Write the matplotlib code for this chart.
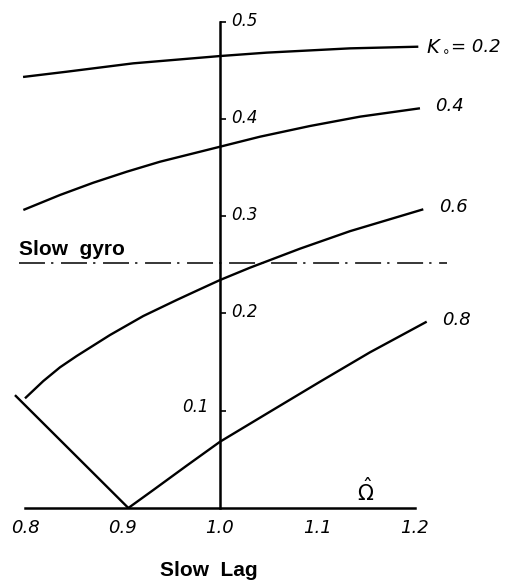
import matplotlib
matplotlib.use('Agg')
import matplotlib.pyplot as plt

# frequency ratio (Omega hat) and damping
k02_x = [0.798, 0.8428, 0.911, 1.000, 1.0479, 1.1333, 1.2034]
k02_y = [0.443, 0.4484, 0.457, 0.4645, 0.468, 0.4724, 0.4741]

k04_x = [0.7983, 0.8359, 0.870, 0.9043, 0.9385, 1.000, 1.041, 1.0923, 1.1436, 1.2051]
k04_y = [0.3063, 0.3217, 0.3343, 0.3456, 0.3559, 0.3713, 0.3816, 0.3926, 0.4022, 0.4108]

k06_x = [0.800, 0.8188, 0.8359, 0.853, 0.8872, 0.9213, 0.9556, 0.9761, 1.000,
         1.0308, 1.082, 1.1333, 1.2085]
k06_y = [0.1127, 0.1305, 0.1446, 0.1562, 0.1778, 0.1973, 0.2138, 0.2233, 0.2343,
         0.247, 0.2665, 0.2845, 0.307]

k08_x = [0.906, 0.9316, 0.9658, 1.000, 1.0513, 1.1026, 1.1538, 1.212]
k08_y = [0.000, 0.0185, 0.0435, 0.0681, 0.099, 0.1298, 0.160, 0.1915]

# boundary of the slow lag region
lim_x = [0.7897, 0.906]
lim_y = [0.116, 0.000]

gyro_level = 0.2515
gyro_x = [0.794, 1.233]

curve_labels = ['0.4', '0.6', '0.8']
x_ticks = [0.8, 0.9, 1.0, 1.1, 1.2]
x_ticklabels = ['0.8', '0.9', '1.0', '1.1', '1.2']
y_ticks = [0.1, 0.2, 0.3, 0.4, 0.5]
y_ticklabels = ['0.1', '0.2', '0.3', '0.4', '0.5']

fig = plt.figure(figsize=(5.08, 5.88), dpi=100)
ax = fig.add_axes([0, 0, 1, 1])
ax.set_xlim(0.8 - 25 / 975, 0.8 + 483 / 975)
ax.set_ylim(-80 / 973, 508 / 973)

lw = 1.7
for xs, ys in [(k02_x, k02_y), (k04_x, k04_y), (k06_x, k06_y), (k08_x, k08_y), (lim_x, lim_y)]:
    ax.plot(xs, ys, color='black', lw=lw, solid_capstyle='butt', solid_joinstyle='round')

ax.plot(gyro_x, [gyro_level, gyro_level], color='black', lw=1.1,
        dashes=(17, 4, 1.5, 5))

# axes crossing at Omega = 1 and zero damping
for s in ['top', 'right']:
    ax.spines[s].set_visible(False)
ax.spines['left'].set_position(('data', 1.0))
ax.spines['left'].set_bounds(0, 0.5)
ax.spines['bottom'].set_position(('data', 0))
ax.spines['bottom'].set_bounds(0.8, 1.2)
ax.spines['left'].set_linewidth(1.8)
ax.spines['bottom'].set_linewidth(1.8)

ax.set_yticks(y_ticks)
ax.tick_params(axis='y', direction='in', length=4.5, width=1.2, labelleft=False)
ax.set_xticks(x_ticks)
ax.set_xticklabels(x_ticklabels, fontsize=13, style='italic')
ax.set_xticks([0.8, 1.2], minor=True)
ax.tick_params(axis='x', which='major', length=0, pad=8)
ax.tick_params(axis='x', which='minor', direction='inout', length=8, width=1.2)

for v, t in zip(y_ticks, y_ticklabels):
    if v == 0.1:
        ax.text(0.988, v + 0.004, t, ha='right', va='center', fontsize=12, style='italic')
    else:
        ax.text(1.011, v + 0.001, t, ha='left', va='center', fontsize=12, style='italic')

# curve labels at the right-hand ends
ax.text(1.211, 0.474, r'$K_\circ$', ha='left', va='center', fontsize=14)
ax.text(1.237, 0.474, '= 0.2', ha='left', va='center', fontsize=13, style='italic')
for xs, ys, t in zip([k04_x, k06_x, k08_x], [k04_y, k06_y, k08_y], curve_labels):
    ax.text(xs[-1] + 0.016, ys[-1] + 0.002, t, ha='left', va='center', fontsize=13, style='italic')

ax.text(1.1497, 0.0175, r'$\hat{\Omega}$', ha='center', va='center', fontsize=15)

ax.text(0.794, gyro_level + 0.004, 'Slow  gyro', ha='left', va='bottom',
        fontsize=15, fontweight='bold', family='Liberation Sans')
ax.text(0.989, -0.064, 'Slow  Lag', ha='center', va='center',
        fontsize=15, fontweight='bold', family='Liberation Sans')

fig.savefig('out.png', dpi=100)
